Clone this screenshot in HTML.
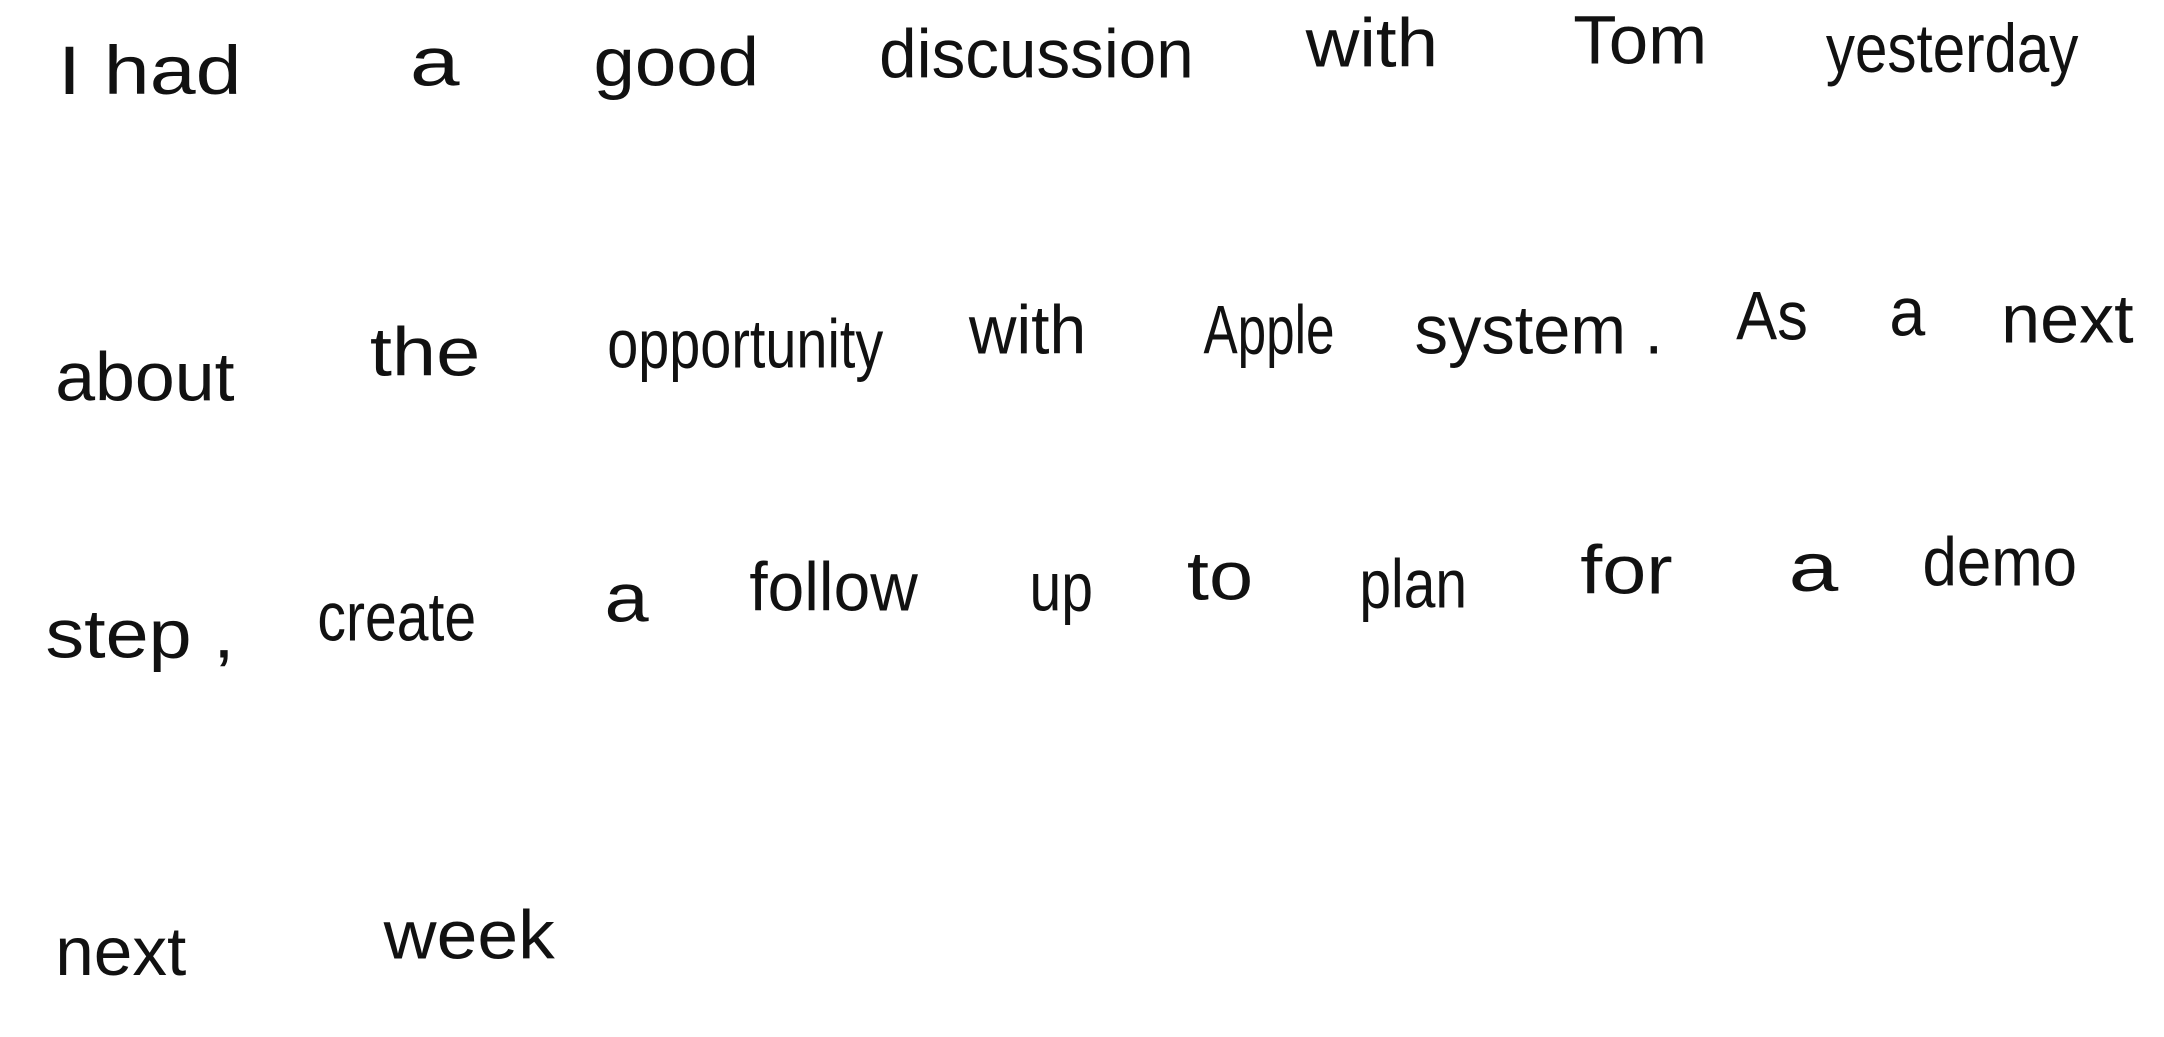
<!DOCTYPE html>
<html><head><meta charset="utf-8"><style>
html,body{margin:0;padding:0;background:#fff;width:2164px;height:1037px;overflow:hidden}
svg{display:block}
text{font-family:"Liberation Sans",sans-serif;font-size:50px;fill:#111;font-weight:normal}
</style></head><body>
<svg width="2164" height="1037" viewBox="0 0 1568 751" preserveAspectRatio="none">
<g lengthAdjust="spacingAndGlyphs">
<text x="42" y="68" textLength="133" lengthAdjust="spacingAndGlyphs">I had</text>
<text x="297" y="62" textLength="36" lengthAdjust="spacingAndGlyphs">a</text>
<text x="430" y="62" textLength="120" lengthAdjust="spacingAndGlyphs">good</text>
<text x="637" y="56" textLength="228" lengthAdjust="spacingAndGlyphs">discussion</text>
<text x="946" y="48" textLength="96" lengthAdjust="spacingAndGlyphs">with</text>
<text x="1140" y="46" textLength="97" lengthAdjust="spacingAndGlyphs">Tom</text>
<text x="1323" y="52" textLength="183" lengthAdjust="spacingAndGlyphs">yesterday</text>

<text x="40" y="290" textLength="130" lengthAdjust="spacingAndGlyphs">about</text>
<text x="268" y="272" textLength="80" lengthAdjust="spacingAndGlyphs">the</text>
<text x="440" y="266" textLength="200" lengthAdjust="spacingAndGlyphs">opportunity</text>
<text x="702" y="256" textLength="85" lengthAdjust="spacingAndGlyphs">with</text>
<text x="872" y="256" textLength="95" lengthAdjust="spacingAndGlyphs">Apple</text>
<text x="1025" y="256" textLength="180" lengthAdjust="spacingAndGlyphs">system .</text>
<text x="1258" y="246" textLength="52" lengthAdjust="spacingAndGlyphs">As</text>
<text x="1369" y="243" textLength="26" lengthAdjust="spacingAndGlyphs">a</text>
<text x="1450" y="248" textLength="96" lengthAdjust="spacingAndGlyphs">next</text>

<text x="33" y="476" textLength="137" lengthAdjust="spacingAndGlyphs">step ,</text>
<text x="230" y="464" textLength="115" lengthAdjust="spacingAndGlyphs">create</text>
<text x="438" y="450" textLength="32" lengthAdjust="spacingAndGlyphs">a</text>
<text x="543" y="442" textLength="122" lengthAdjust="spacingAndGlyphs">follow</text>
<text x="746" y="442" textLength="46" lengthAdjust="spacingAndGlyphs">up</text>
<text x="860" y="434" textLength="48" lengthAdjust="spacingAndGlyphs">to</text>
<text x="985" y="440" textLength="78" lengthAdjust="spacingAndGlyphs">plan</text>
<text x="1145" y="430" textLength="67" lengthAdjust="spacingAndGlyphs">for</text>
<text x="1296" y="428" textLength="36" lengthAdjust="spacingAndGlyphs">a</text>
<text x="1393" y="424" textLength="112" lengthAdjust="spacingAndGlyphs">demo</text>

<text x="40" y="706" textLength="95" lengthAdjust="spacingAndGlyphs">next</text>
<text x="278" y="694" textLength="124" lengthAdjust="spacingAndGlyphs">week</text>
</g>
</svg>
</body></html>
